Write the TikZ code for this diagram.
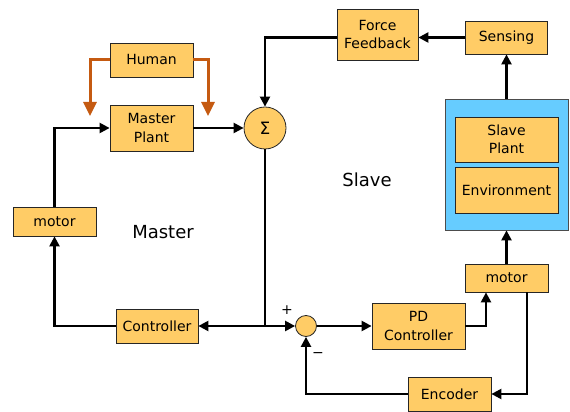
\documentclass[tikz,border=0pt]{standalone}
\usepackage{fontspec}
\setmainfont{DejaVu Sans}
\usetikzlibrary{arrows.meta,positioning}
\definecolor{BoxFill}{HTML}{FFCC66}
\definecolor{SkyBlue}{HTML}{66CCFF}
\definecolor{Rust}{HTML}{C55A11}

\begin{document}
\begin{tikzpicture}[x=1pt,y=1pt,
    block/.style={draw=black!85,line width=0.8pt,fill=BoxFill,align=center,inner sep=0pt,
      font=\fontsize{14}{18.5}\selectfont},
    sumnode/.style={circle,draw=black!85,line width=0.8pt,fill=BoxFill,inner sep=0pt},
    sig/.style={-{Triangle[length=10pt,width=10pt]},line width=2.3pt},
    push/.style={-{Triangle[length=14pt,width=13pt]},line width=3pt,Rust},
    tag/.style={font=\fontsize{18}{20}\selectfont}]
  \useasboundingbox (0,0) rectangle (570,412);

  % Master side
  \node[block,minimum width=83pt,minimum height=34pt] (human) at (151.5,352) {Human};
  \node[block,minimum width=83pt,minimum height=46pt] (mplant) at (151.5,284) {Master\\Plant};
  \node[sumnode,minimum size=42pt,font=\fontsize{17}{18}\selectfont] (sum) at (265,284) {Σ};
  \node[block,minimum width=83pt,minimum height=29pt] (mmotor) at (54.5,190.5) {motor};
  \node[block,minimum width=82pt,minimum height=34pt] (ctrl) at (157,86) {Controller};
  \node[tag] (mlabel) at (163,180) {Master};

  % Slave side
  \node[block,minimum width=81pt,minimum height=51pt] (ffb) at (377.5,377.5) {Force\\Feedback};
  \node[block,minimum width=82pt,minimum height=33pt] (sensing) at (506.5,374.5) {Sensing};
  \node[draw=black!70,line width=0.8pt,fill=SkyBlue,minimum width=123pt,minimum height=131pt]
    (slave) at (506.5,247.5) {};
  \node[block,minimum width=103pt,minimum height=45pt] (splant) at (506.5,272.5) {Slave\\Plant};
  \node[block,minimum width=103pt,minimum height=46pt] (env) at (506.5,222) {Environment};
  \node[block,minimum width=83pt,minimum height=28pt] (smotor) at (506.5,134) {motor};
  \node[block,minimum width=93pt,minimum height=46pt] (pd) at (418.5,86) {PD\\Controller};
  \node[sumnode,minimum size=21pt] (ssum) at (306,86) {};
  \node[block,minimum width=83pt,minimum height=34pt] (enc) at (449.5,18) {Encoder};
  \node[tag] (slabel) at (367,232) {Slave};
  \node[font=\fontsize{14}{16}\selectfont] (plus) at (287,102) {+};
  \node[font=\fontsize{14}{16}\selectfont] (minus) at (318,57) {−};

  % Hand forces on the master
  \coordinate (hl) at (90,296);
  \coordinate (hr) at (208,296);
  \draw[push] (human.west) -| (hl);
  \draw[push] (human.east) -| (hr);

  % Master loop
  \draw[sig] (mplant.east) -- (sum.west);
  \draw[sig] (ffb.west |- sensing.west) -| (sum.north);
  \draw[line width=2.3pt] (sum.south) -- (sum.south |- ctrl.east) coordinate (jn);
  \draw[sig] (jn) -- (ctrl.east);
  \draw[sig] (ctrl.west) -| (mmotor.south);
  \draw[sig] (mmotor.north) |- (mplant.west);

  % Slave loop
  \draw[sig] (jn) -- (ssum.west);
  \draw[sig] (ssum.east) -- (pd.west);
  \draw[sig] (pd.east) -| ([xshift=-20.5pt]smotor.south);
  \draw[sig] (smotor.north) -- (slave.south);
  \draw[sig] (slave.north) -- (sensing.south);
  \draw[sig] (sensing.west) -- (sensing.west -| ffb.east);
  \draw[sig] ([xshift=20.5pt]smotor.south) |- (enc.east);
  \draw[sig] (enc.west) -| (ssum.south);
\end{tikzpicture}
\end{document}
